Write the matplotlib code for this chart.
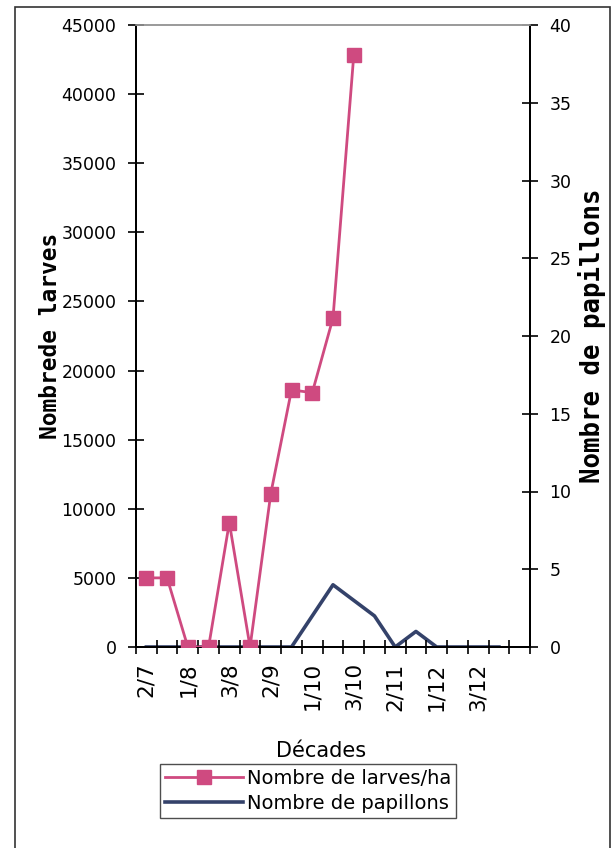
import numpy as np
import matplotlib
matplotlib.use("Agg")
import matplotlib.pyplot as plt
from matplotlib.patches import Rectangle

# decades (10-day periods), July -> January
DECADES = ["2/7", "3/7", "1/8", "2/8", "3/8", "1/9", "2/9", "3/9", "1/10", "2/10",
           "3/10", "1/11", "2/11", "3/11", "1/12", "2/12", "3/12", "1/1", "2/1"]
LABELED = ["2/7", "1/8", "3/8", "2/9", "1/10", "3/10", "2/11", "1/12", "3/12"]

# larvae per ha (left axis), available up to 3/10
LARVES = [5000, 5000, 0, 0, 9000, 0, 11100, 18600, 18400, 23800, 42800]
# moths (right axis)
PAPILLONS = [0, 0, 0, 0, 0, 0, 0, 0, 2, 4, 3, 2, 0, 1, 0, 0, 0, 0]

PINK = "#cf4a80"
NAVY = "#34426a"

plt.rcParams["font.family"] = ["DejaVu Sans"]

fig = plt.figure(figsize=(6.16, 8.48), dpi=100)
ax = fig.add_axes([136 / 616, 1 - 647 / 848, (530 - 136) / 616, (647 - 25) / 848])
ax2 = ax.twinx()

x = np.arange(len(DECADES)) + 0.5
ax.plot(x[:len(LARVES)], LARVES, color=PINK, lw=2, marker="s", ms=10,
        mfc=PINK, mec=PINK, zorder=3, label="Nombre de larves/ha")
ax2.plot(x[:len(PAPILLONS)], PAPILLONS, color=NAVY, lw=2.6, zorder=3,
         label="Nombre de papillons")
ax.set_zorder(ax2.get_zorder() + 1)
ax.patch.set_visible(False)

ax.set_xlim(0, len(DECADES))
ax.set_ylim(0, 45000)
ax2.set_ylim(0, 40)

ax.set_yticks(np.arange(0, 45001, 5000))
ax2.set_yticks(np.arange(0, 41, 5))

# category boundaries get the tick marks, labels sit in between
ax.set_xticks(np.arange(0, len(DECADES) + 1))
ax.set_xticklabels([])
lab_pos = [DECADES.index(d) + 0.5 for d in LABELED]
ax.set_xticks(lab_pos, minor=True)
ax.set_xticklabels(LABELED, minor=True, rotation=90, fontsize=15.5)
ax.tick_params(axis="x", which="minor", length=0, pad=11)
ax.tick_params(axis="x", which="major", direction="inout", length=10, width=1.2)
ax.tick_params(axis="y", direction="inout", length=12, width=1.2, labelsize=12.5, pad=8)
ax2.tick_params(axis="y", direction="inout", length=12, width=1.2, labelsize=12.5, pad=8)

for a in (ax, ax2):
    a.spines["top"].set_color("#9a9a9a")
    a.spines["top"].set_linewidth(1.2)
    a.spines["left"].set_linewidth(1.4)
    a.spines["right"].set_linewidth(1.4)
    a.spines["bottom"].set_linewidth(1.4)

ax.set_ylabel("Nombrede larves", fontsize=16.5, fontweight="bold",
              family="DejaVu Sans Mono", labelpad=0)
ax2.set_ylabel("Nombre de papillons", fontsize=18.5, fontweight="bold",
               family="DejaVu Sans Mono", rotation=90, labelpad=5)
ax.set_xlabel("Décades", fontsize=15, labelpad=22)
ax.xaxis.label.set_position((0.47, 0))

h1, l1 = ax.get_legend_handles_labels()
h2, l2 = ax2.get_legend_handles_labels()
fig.legend(h1 + h2, l1 + l2, loc="center", bbox_to_anchor=(308 / 616, 1 - 791 / 848),
           fontsize=14, frameon=True, fancybox=False, edgecolor="#222222",
           handlelength=4.0, handletextpad=0.2, borderpad=0.25, labelspacing=0.3,
           borderaxespad=0)

fig.patches.append(Rectangle((15 / 616, -0.01), (610 - 15) / 616, 1 - 7 / 848 + 0.01,
                             transform=fig.transFigure, fill=False,
                             edgecolor="#333333", lw=1.2))

fig.savefig("out.png", dpi=100)
